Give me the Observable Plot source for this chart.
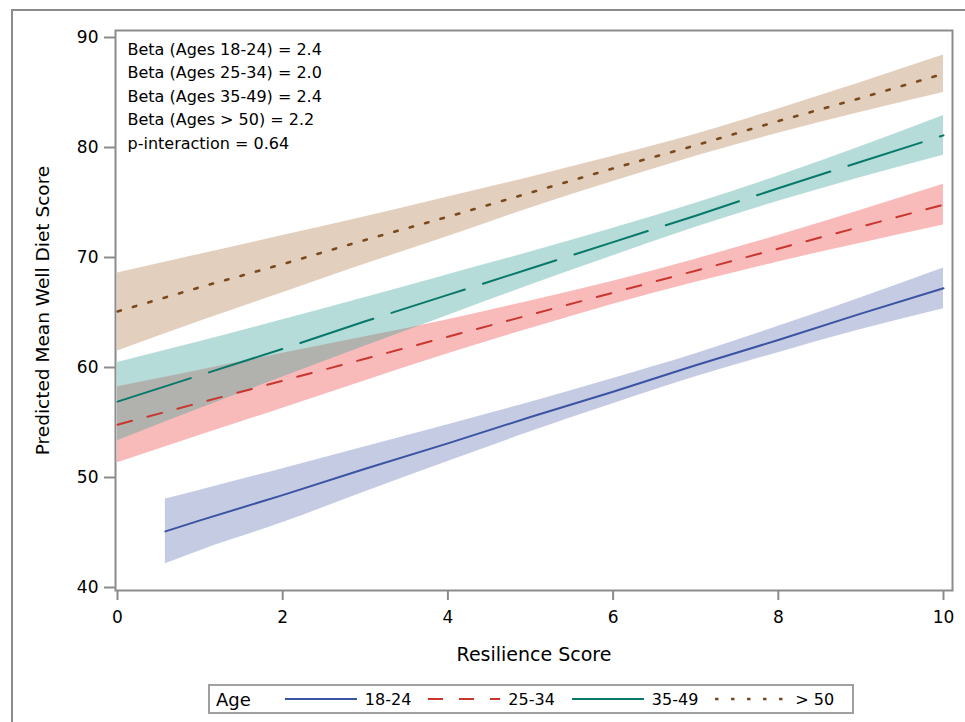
<!DOCTYPE html>
<html><head><meta charset="utf-8">
<script src="https://cdn.jsdelivr.net/npm/d3@7"></script>
<script src="https://cdn.jsdelivr.net/npm/@observablehq/plot@0.6"></script>
<style>
body{margin:0;background:#fff;}
#wrap{position:relative;width:965px;height:722px;overflow:hidden;font-family:"DejaVu Sans",sans-serif;}
#outer{position:absolute;left:11px;top:9px;width:1000px;height:800px;border:2px solid #8c8c8c;box-sizing:border-box;}
#chart{position:absolute;left:0;top:0;}
#legend{position:absolute;left:208px;top:684px;width:646px;height:30px;border:2px solid #a0a0a0;box-sizing:border-box;display:flex;align-items:center;background:#fff;color:#000;white-space:nowrap;overflow:visible;}
#legend > *{flex:0 0 auto;}
#legend .ttl{font-size:18px;margin-left:6px;margin-right:34px;}
#legend .lab{font-size:16px;margin-right:17px;}
#legend .lab:last-child{margin-right:0;}
#legend svg{margin-right:8px;display:block;}
</style></head><body>
<div id="wrap"><div id="outer"></div><div id="chart"></div><div id="legend"></div></div>
<script>
// ---- data ----
const groups = ["18-24", "25-34", "35-49", "> 50"];

const xs1824 = [0.58, 1, 2, 3, 4, 5, 6, 7, 8, 9, 10];
const fit1824 = [45.1, 46.1, 48.4, 50.8, 53.1, 55.5, 57.8, 60.2, 62.5, 64.9, 67.2];
const upper1824 = [48.05, 48.85, 50.8, 52.8, 54.8, 56.85, 59.0, 61.25, 63.75, 66.35, 69.05];
const lower1824 = [42.15, 43.35, 45.9, 48.7, 51.45, 54.15, 56.7, 59.15, 61.35, 63.45, 65.35];

const xs2534 = [0, 1, 2, 3, 4, 5, 6, 7, 8, 9, 10];
const fit2534 = [54.8, 56.8, 58.8, 60.8, 62.8, 64.8, 66.8, 68.8, 70.8, 72.8, 74.8];
const upper2534 = [58.25, 59.75, 61.3, 62.8, 64.35, 66.05, 67.85, 69.85, 72.0, 74.3, 76.65];
const lower2534 = [51.35, 53.85, 56.3, 58.8, 61.25, 63.55, 65.75, 67.75, 69.6, 71.3, 72.95];

const xs3549 = [0, 1, 2, 3, 4, 5, 6, 7, 8, 9, 10];
const fit3549 = [56.9, 59.3, 61.7, 64.2, 66.6, 69.0, 71.4, 73.8, 76.3, 78.7, 81.1];
const upper3549 = [60.45, 62.37, 64.34, 66.36, 68.43, 70.5, 72.67, 74.94, 77.41, 80.08, 82.9];
const lower3549 = [53.35, 56.27, 59.14, 61.96, 64.73, 67.5, 70.17, 72.74, 75.11, 77.28, 79.3];

const xs50 = [0, 1, 2, 3, 4, 5, 6, 7, 8, 9, 10];
const fit50 = [65.1, 67.3, 69.4, 71.6, 73.7, 75.9, 78.1, 80.2, 82.4, 84.5, 86.7];
const upper50 = [68.6, 70.3, 72.0, 73.7, 75.5, 77.3, 79.2, 81.2, 83.5, 85.9, 88.4];
const lower50 = [61.5, 64.2, 66.8, 69.4, 71.9, 74.5, 76.9, 79.2, 81.3, 83.2, 85.0];

const annotations = [
  "Beta (Ages 18-24) = 2.4",
  "Beta (Ages 25-34) = 2.0",
  "Beta (Ages 35-49) = 2.4",
  "Beta (Ages > 50) = 2.2",
  "p-interaction = 0.64"
];
const xTicks = [0, 2, 4, 6, 8, 10];
const yTicks = [40, 50, 60, 70, 80, 90];
const xTitle = "Resilience Score";
const yTitle = "Predicted Mean Well Diet Score";
const legendTitle = "Age";

// ---- styles ----
const lineColors = ["#3a54a3", "#c9362f", "#08786a", "#7a4a1e"];
const bandColors = ["#6e7db9", "#f05252", "#46a79d", "#b6875a"];
const dashes = ["none", "15,16", "77,19", "3.5,12.5"];
const widths = [2, 2, 2, 2.6];

const series = [
  [xs1824, fit1824, upper1824, lower1824],
  [xs2534, fit2534, upper2534, lower2534],
  [xs3549, fit3549, upper3549, lower3549],
  [xs50, fit50, upper50, lower50]
];
const tables = series.map(([xs, f, u, l], gi) =>
  xs.map((x, i) => ({group: groups[gi], x, fit: f[i], upper: u[i], lower: l[i]})));

const marks = [];
tables.forEach((t, gi) => {
  marks.push(Plot.areaY(t, {x: "x", y1: "lower", y2: "upper", fill: bandColors[gi], fillOpacity: 0.4, curve: "monotone-x"}));
});
tables.forEach((t, gi) => {
  marks.push(Plot.line(t, {x: "x", y: "fit", stroke: lineColors[gi], strokeWidth: widths[gi], strokeDasharray: dashes[gi] === "none" ? null : dashes[gi]}));
});
marks.push(Plot.frame({stroke: "#8c8c8c", strokeWidth: 2}));
marks.push(Plot.axisX({ticks: xTicks, tickSize: 10, tickPadding: 10, stroke: "#8c8c8c", strokeWidth: 2, fill: "#000", fontSize: 17, label: null}));
marks.push(Plot.axisY({ticks: yTicks, tickSize: 11, tickPadding: 6, stroke: "#8c8c8c", strokeWidth: 2, fill: "#000", fontSize: 17, label: null}));
marks.push(Plot.text([annotations.join("\n")], {frameAnchor: "top-left", dx: 12, dy: 8, lineAnchor: "top", textAnchor: "start", lineHeight: 1.46, fontSize: 16, fill: "#000"}));
marks.push(Plot.text([xTitle], {frameAnchor: "bottom", dy: 64, lineAnchor: "middle", fontSize: 19, fill: "#000"}));
marks.push(Plot.text([yTitle], {frameAnchor: "left", dx: -72, rotate: -90, lineAnchor: "middle", textAnchor: "middle", fontSize: 18.5, fill: "#000"}));

const chart = Plot.plot({
  width: 965, height: 722,
  marginLeft: 115, marginRight: 13, marginTop: 30, marginBottom: 132,
  style: {fontFamily: "DejaVu Sans", fontSize: "17px", background: "transparent", overflow: "visible"},
  x: {domain: [-0.0242, 10.109]},
  y: {domain: [39.727, 90.636]},
  marks
});
document.getElementById("chart").appendChild(chart);

// ---- legend ----
const leg = document.getElementById("legend");
const t = document.createElement("span"); t.className = "ttl"; t.textContent = legendTitle; leg.appendChild(t);
groups.forEach((g, gi) => {
  const s = d3.create("svg").attr("width", 72).attr("height", 10);
  s.append("line").attr("x1", 0).attr("x2", 72).attr("y1", 5).attr("y2", 5)
    .attr("stroke", lineColors[gi]).attr("stroke-width", widths[gi])
    .attr("stroke-dasharray", dashes[gi] === "none" ? null : dashes[gi]);
  leg.appendChild(s.node());
  const l = document.createElement("span"); l.className = "lab"; l.textContent = g; leg.appendChild(l);
});
</script>
</body></html>
